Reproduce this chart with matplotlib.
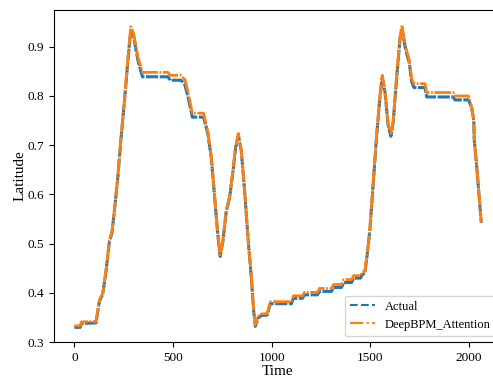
import matplotlib
matplotlib.use("Agg")
import matplotlib.pyplot as plt
from matplotlib.lines import Line2D

plt.rcParams['font.family'] = ['Liberation Serif', 'DejaVu Serif']
plt.rcParams['font.size'] = 10

# vertices (time step, latitude)
time = [0, 30, 36, 110, 127, 144, 161, 178, 191, 203, 220, 237, 254, 271, 286,
        300, 322, 345, 474, 486, 540, 548, 560, 575, 598, 655, 677, 694, 711,
        727, 739, 753, 770, 787, 804, 817, 831, 846, 863, 880, 897, 909, 917,
        931, 948, 977, 993, 1100, 1110, 1156, 1166, 1232, 1242, 1303, 1313,
        1354, 1364, 1405, 1415, 1450, 1458, 1472, 1484, 1497, 1514, 1531, 1548,
        1560, 1574, 1590, 1604, 1616, 1633, 1650, 1660, 1675, 1687, 1697, 1709,
        1721, 1777, 1785, 1920, 1928, 1997, 2013, 2024, 2026, 2039, 2062]

actual = [0.330, 0.330, 0.338, 0.339, 0.383, 0.397, 0.445, 0.505, 0.522, 0.566,
          0.633, 0.715, 0.789, 0.870, 0.933, 0.922, 0.873, 0.839, 0.839, 0.832,
          0.832, 0.829, 0.823, 0.800, 0.757, 0.757, 0.722, 0.674, 0.594, 0.518,
          0.474, 0.505, 0.566, 0.594, 0.647, 0.694, 0.720, 0.688, 0.606, 0.511,
          0.430, 0.362, 0.332, 0.349, 0.354, 0.355, 0.378, 0.378, 0.389, 0.389,
          0.396, 0.396, 0.403, 0.403, 0.411, 0.411, 0.421, 0.421, 0.430, 0.430,
          0.437, 0.440, 0.478, 0.525, 0.620, 0.715, 0.796, 0.838, 0.808, 0.740,
          0.718, 0.748, 0.836, 0.916, 0.935, 0.902, 0.881, 0.868, 0.829, 0.817,
          0.817, 0.798, 0.798, 0.792, 0.792, 0.776, 0.751, 0.712, 0.655, 0.542]

predicted = [0.333, 0.333, 0.341, 0.342, 0.386, 0.399, 0.447, 0.507, 0.525, 0.568,
             0.635, 0.717, 0.791, 0.873, 0.941, 0.928, 0.880, 0.848, 0.848, 0.842,
             0.842, 0.838, 0.834, 0.810, 0.765, 0.765, 0.726, 0.677, 0.596, 0.520,
             0.477, 0.507, 0.568, 0.596, 0.649, 0.697, 0.724, 0.691, 0.608, 0.513,
             0.432, 0.364, 0.335, 0.352, 0.357, 0.358, 0.382, 0.382, 0.394, 0.394,
             0.401, 0.401, 0.409, 0.409, 0.417, 0.417, 0.427, 0.427, 0.435, 0.435,
             0.442, 0.444, 0.481, 0.527, 0.622, 0.717, 0.798, 0.842, 0.812, 0.744,
             0.724, 0.751, 0.839, 0.920, 0.944, 0.907, 0.887, 0.873, 0.835, 0.825,
             0.825, 0.807, 0.807, 0.800, 0.800, 0.778, 0.752, 0.714, 0.657, 0.543]

fig = plt.figure(figsize=(4.93, 3.78), dpi=100)
# right edge of the axes falls just outside the picture, as in the reference
ax = fig.add_axes([0.1095, 0.095, 0.908, 0.879])

# the dense original series reads almost solid, so keep the gaps short
ax.plot(time, actual, color='#1f77b4', linewidth=2.2, dashes=(4, 0.5))
ax.plot(time, predicted, color='#ff7f0e', linewidth=2.0, dashes=(6, 0.6, 0.6, 0.6))

ax.set_xlim(-103, 2165)
ax.set_ylim(0.3, 0.975)
ax.set_xticks([0, 500, 1000, 1500, 2000])
ax.set_yticks([0.3, 0.4, 0.5, 0.6, 0.7, 0.8, 0.9])
ax.tick_params(labelsize=9.5)
ax.set_xlabel('Time', fontsize=11, labelpad=0.5)
ax.set_ylabel('Latitude', fontsize=11, labelpad=1)

handles = [Line2D([], [], color='#1f77b4', linestyle='--', linewidth=1.5),
           Line2D([], [], color='#ff7f0e', linestyle='-.', linewidth=1.5)]
ax.legend(handles, ['Actual', 'DeepBPM_Attention'], loc='lower right', fontsize=9)

fig.savefig('out.png', dpi=100)
